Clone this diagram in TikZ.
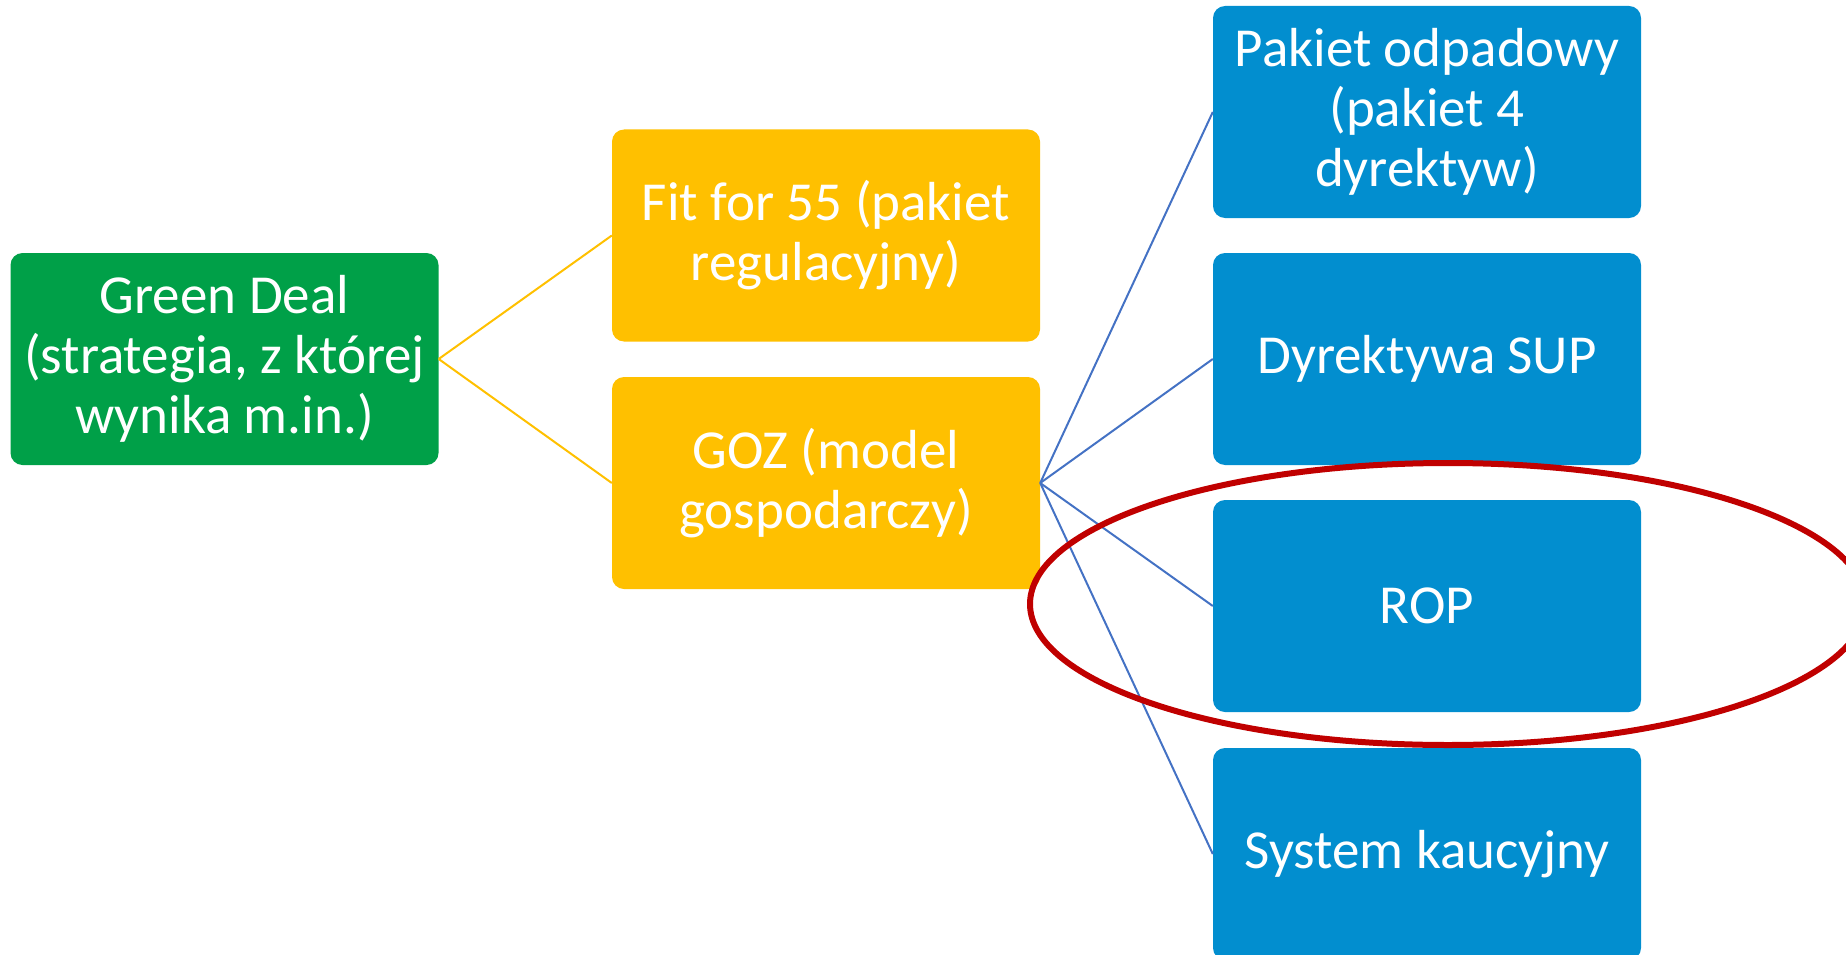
\documentclass[tikz,border=0pt]{standalone}
\usepackage{fontspec}
\setmainfont{Carlito}
\definecolor{dealgreen}{RGB}{0,160,72}
\definecolor{planyellow}{RGB}{255,192,0}
\definecolor{topicblue}{RGB}{2,142,207}
\definecolor{linkblue}{RGB}{68,114,196}
\definecolor{ringred}{RGB}{192,0,0}

\begin{document}
\begin{tikzpicture}[x=1pt, y=-1pt,
    tile/.style={rectangle, rounded corners=12pt, minimum width=428pt,
      minimum height=212pt, inner sep=0pt, align=center, text=white,
      font=\fontsize{55}{60}\selectfont},
    greentile/.style={tile, fill=dealgreen},
    yellowtile/.style={tile, fill=planyellow},
    bluetile/.style={tile, fill=topicblue},
    yellowlink/.style={draw=planyellow, line width=2pt},
    bluelink/.style={draw=linkblue, line width=2pt}]
      \useasboundingbox (0,0) rectangle (1846,955);
      \clip (0,0) rectangle (1846,955);

      \node[greentile] (deal) at (224.5,359) {Green Deal\\(strategia, z której\\wynika m.in.)};

      \node[yellowtile] (fit) at (826,235.5) {Fit for 55 (pakiet\\regulacyjny)};
      \node[yellowtile] (goz) at (826,483) {GOZ (model\\gospodarczy)};

      \node[bluetile] (odpady) at (1427,112) {Pakiet odpadowy\\(pakiet 4\\dyrektyw)};
      \node[bluetile] (sup) at (1427,359) {Dyrektywa SUP};
      \node[bluetile] (rop) at (1427,606) {ROP};
      \node[bluetile] (kaucja) at (1427,854) {System kaucyjny};

      \draw[yellowlink] (deal.east) -- (fit.west);
      \draw[yellowlink] (deal.east) -- (goz.west);

      \draw[bluelink] (goz.east) -- (odpady.west);
      \draw[bluelink] (goz.east) -- (sup.west);
      \draw[bluelink] (goz.east) -- (rop.west);
      \draw[bluelink] (goz.east) -- (kaucja.west);

      \draw[ringred, line width=6pt] (1448,604) ellipse [x radius=418pt, y radius=141pt];
    \end{tikzpicture}
\end{document}
